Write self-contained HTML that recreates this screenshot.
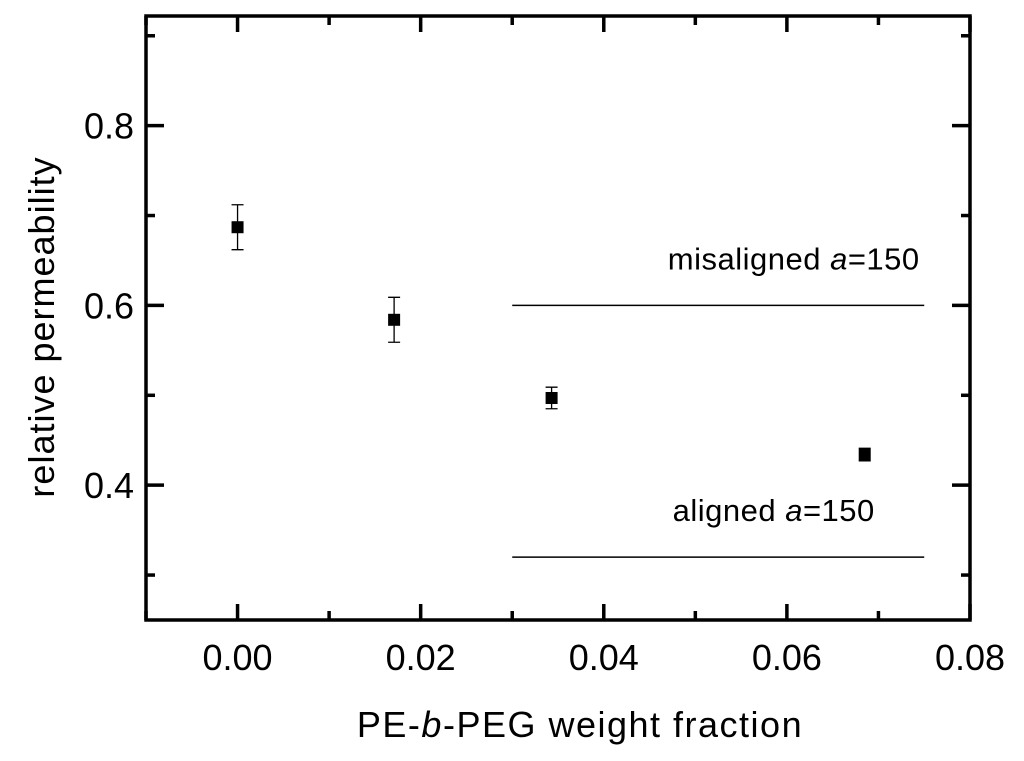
<!DOCTYPE html>
<html><head><meta charset="utf-8"><style>
body{margin:0;background:#fff}
text{font-family:"Liberation Sans",Arial,sans-serif;fill:#000}
</style></head><body>
<svg id="chart" width="1024" height="756" xmlns="http://www.w3.org/2000/svg">
<g id="g"></g>
</svg>
<script>
const xs=[0,0.0171,0.0343,0.0685];
const ys=[0.687,0.584,0.497,0.434];
const errs=[0.025,0.025,0.012,0.007];
const xTicks=[0,0.02,0.04,0.06,0.08];
const xTickLabels=["0.00","0.02","0.04","0.06","0.08"];
const yTicks=[0.4,0.6,0.8];
const yTickLabels=["0.4","0.6","0.8"];
const refYs=[0.6,0.32];
const refLabels=["misaligned ","aligned "];
const refLabelEnd=[0.0745,0.0696];
const refX0=0.03, refX1=0.075;
const L=146,R=970,T=16,B=620,x0=-0.01,x1=0.08,y0=0.25,y1=0.922;
const X=v=>L+(v-x0)/(x1-x0)*(R-L);
const Y=v=>B-(v-y0)/(y1-y0)*(B-T);
const g=document.getElementById('g');const NS="http://www.w3.org/2000/svg";
function mk(t,a,p){const e=document.createElementNS(NS,t);for(const k in a)e.setAttribute(k,a[k]);(p||g).appendChild(e);return e;}
let e=mk('rect',{x:L,y:T,width:R-L,height:B-T,fill:'none',stroke:'#000','stroke-width':3.5});


for(let v=-0.01;v<=0.0801;v+=0.01){const vv=Math.round(v*100)/100;const maj=Math.abs(Math.round(vv*50)-vv*50)<1e-6;const len=maj?16:9;
e=mk('line',{x1:X(vv),x2:X(vv),y1:B,y2:B-len,stroke:'#000','stroke-width':3.5});


e=mk('line',{x1:X(vv),x2:X(vv),y1:T,y2:T+len,stroke:'#000','stroke-width':3.5});

}
for(let v=0.3;v<=0.9001;v+=0.1){const vv=Math.round(v*10)/10;const maj=Math.abs(Math.round(vv*5)-vv*5)<1e-6;const len=maj?18:9;
e=mk('line',{x1:L,x2:L+len,y1:Y(vv),y2:Y(vv),stroke:'#000','stroke-width':3.5});


e=mk('line',{x1:R,x2:R-len,y1:Y(vv),y2:Y(vv),stroke:'#000','stroke-width':3.5});

}
xTicks.forEach((v,i)=>{e=mk('text',{x:X(v),y:670,'text-anchor':'middle','font-size':36});e.textContent=xTickLabels[i];

});
yTicks.forEach((v,i)=>{e=mk('text',{x:L-12,y:Y(v)+13,'text-anchor':'end','font-size':36});e.textContent=yTickLabels[i];

});
refYs.forEach((v,i)=>{e=mk('line',{x1:X(refX0),x2:X(refX1),y1:Y(v),y2:Y(v),stroke:'#000','stroke-width':1.5});


e=mk('text',{x:X(refLabelEnd[i]),y:Y(v)-36,'text-anchor':'end','font-size':31,'letter-spacing':0.5});


e.appendChild(document.createTextNode(refLabels[i]));
const ts=mk('tspan',{'font-style':'italic'},e);ts.textContent='a';
e.appendChild(document.createTextNode('=150'));});
xs.forEach((v,i)=>{const cx=X(v),cy=Y(ys[i]),t=Y(ys[i]+errs[i]),b=Y(ys[i]-errs[i]);
e=mk('path',{d:`M${cx},${t}V${b}M${cx-6},${t}H${cx+6}M${cx-6},${b}H${cx+6}`,stroke:'#000','stroke-width':1.3,fill:'none'});


e=mk('rect',{x:cx-6,y:cy-6,width:12,height:12,fill:'#000'});

});
e=mk('text',{x:580,y:737,'text-anchor':'middle','font-size':36,'letter-spacing':1.5});


e.appendChild(document.createTextNode('PE-'));
let ts=mk('tspan',{'font-style':'italic'},e);ts.textContent='b';
e.appendChild(document.createTextNode('-PEG weight fraction'));
e=mk('text',{x:0,y:0,'text-anchor':'middle','font-size':36,'letter-spacing':1,transform:`translate(54,327) rotate(-90)`});
e.textContent='relative permeability';


</script>
</body></html>
